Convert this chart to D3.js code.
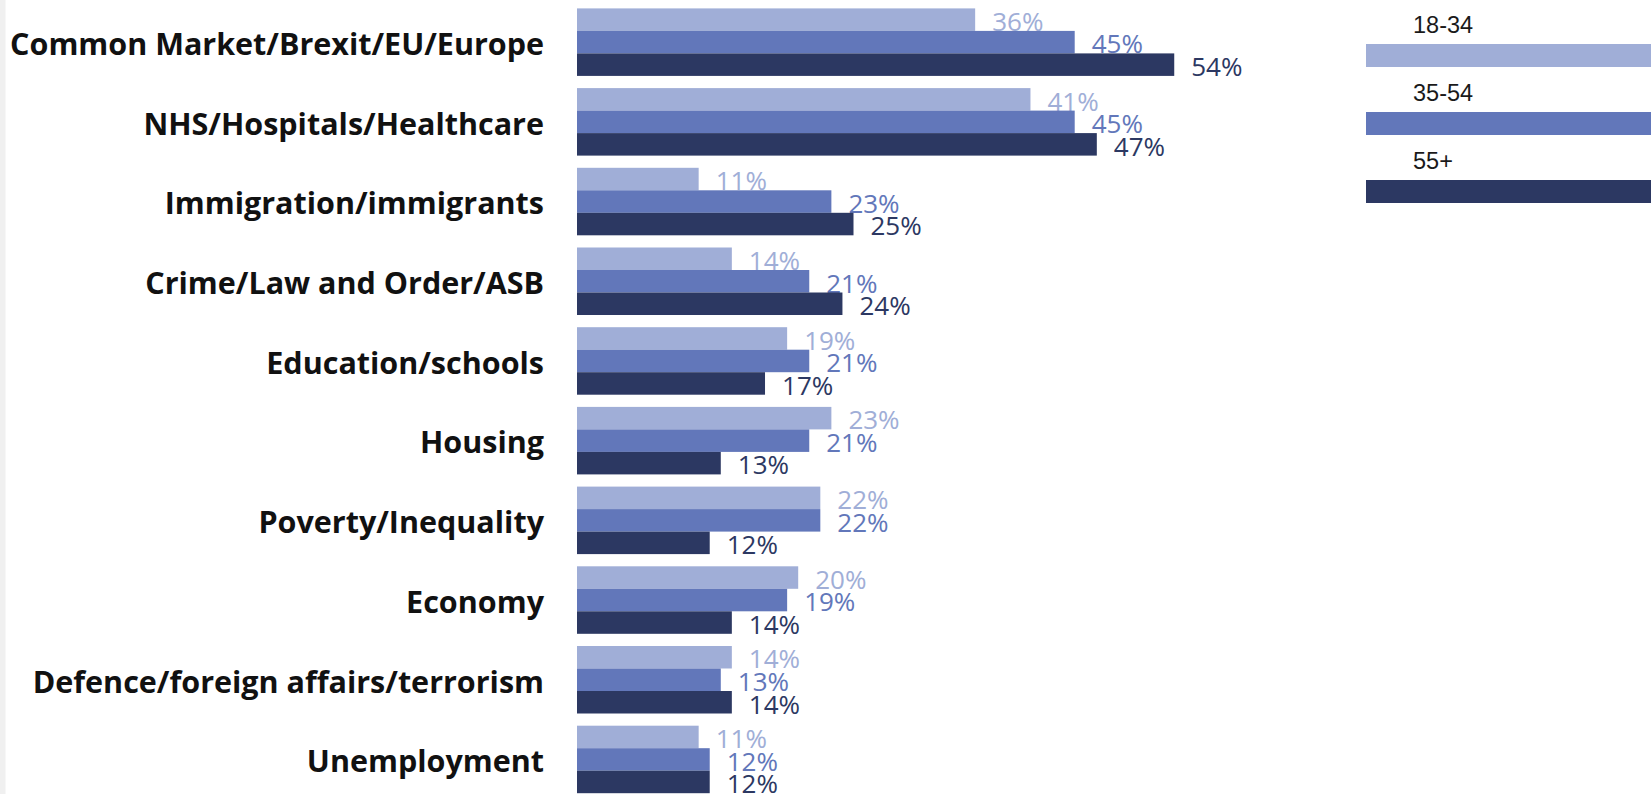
<!DOCTYPE html>
<html>
<head>
<meta charset="utf-8">
<script src="https://cdn.jsdelivr.net/npm/d3@7"></script>
<style>
  html, body { margin: 0; padding: 0; background: #fff; overflow: hidden; }
  svg { display: block; }
</style>
</head>
<body>
<svg id="chart" width="1651" height="794"></svg>
<script>
const categories = [
  "Common Market/Brexit/EU/Europe",
  "NHS/Hospitals/Healthcare",
  "Immigration/immigrants",
  "Crime/Law and Order/ASB",
  "Education/schools",
  "Housing",
  "Poverty/Inequality",
  "Economy",
  "Defence/foreign affairs/terrorism",
  "Unemployment"
];
const seriesNames = ["18-34", "35-54", "55+"];
const values18_34 = [36, 41, 11, 14, 19, 23, 22, 20, 14, 11];
const values35_54 = [45, 45, 23, 21, 21, 21, 22, 19, 13, 12];
const values55plus = [54, 47, 25, 24, 17, 13, 12, 14, 14, 12];
const seriesColors = ["#a0aed7", "#6277ba", "#2c3862"];

const series = [values18_34, values35_54, values55plus];

const svg = d3.select("#chart");

// left grey strip
svg.append("rect").attr("x", 0).attr("y", 0).attr("width", 5.5).attr("height", 794).attr("fill", "#f0f0f0");

const x = d3.scaleLinear().domain([0, 100]).range([577, 1683]);
const y = d3.scaleBand().domain(categories).range([8.4, 793.2]).paddingInner(0.153).paddingOuter(0);
const sub = d3.scaleBand().domain(seriesNames).range([0, y.bandwidth()]);

// category labels
svg.append("g").selectAll("text").data(categories).join("text")
  .attr("x", 544)
  .attr("y", d => y(d) + y.bandwidth() / 2)
  .attr("dy", "0.42em")
  .attr("text-anchor", "end")
  .attr("font-family", "'Open Sans', sans-serif")
  .attr("font-weight", 700)
  .attr("font-size", 30.5)
  .attr("fill", "#111")
  .text(d => d);

// bars & labels, series in order so later bars cover earlier labels
series.forEach((vals, si) => {
  const g = svg.append("g");
  const data = categories.map((c, i) => ({ c, v: vals[i] }));
  g.selectAll("rect").data(data).join("rect")
    .attr("x", x(0))
    .attr("y", d => y(d.c) + sub(seriesNames[si]))
    .attr("width", d => x(d.v) - x(0))
    .attr("height", sub.bandwidth())
    .attr("fill", seriesColors[si]);
  g.selectAll("text").data(data).join("text")
    .attr("x", d => x(d.v) + 17)
    .attr("y", d => y(d.c) + sub(seriesNames[si]) + sub.bandwidth())
    .attr("font-family", "'Open Sans', sans-serif")
    .attr("font-weight", 400)
    .attr("font-size", 26)
    .attr("fill", seriesColors[si])
    .text(d => d.v + "%");
});

// legend
const leg = d3.scaleBand().domain(seriesNames).range([0, 204]);
const lg = svg.append("g");
seriesNames.forEach((n, i) => {
  const top = leg(n);
  lg.append("text")
    .attr("x", 1413).attr("y", top + 33)
    .attr("font-family", "'Liberation Sans', Arial, sans-serif")
    .attr("font-size", 23.5)
    .attr("fill", "#1a1a1a")
    .text(n);
  lg.append("rect")
    .attr("x", 1366).attr("y", top + 44)
    .attr("width", 300).attr("height", 23)
    .attr("fill", seriesColors[i]);
});
</script>
</body>
</html>
